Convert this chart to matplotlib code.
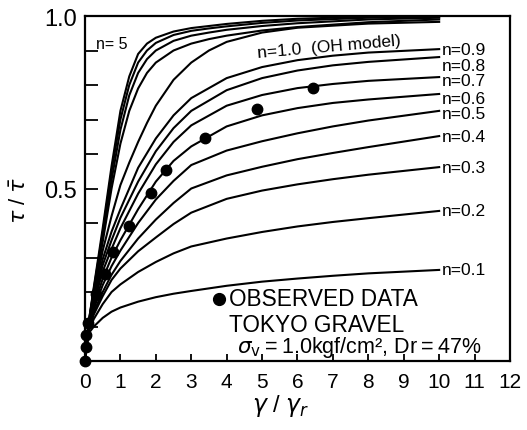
import matplotlib
matplotlib.use("Agg")
import matplotlib.pyplot as plt
from matplotlib.ticker import MultipleLocator

plt.rcParams['font.family'] = ['Liberation Sans', 'DejaVu Sans']
plt.rcParams['mathtext.fontset'] = 'dejavusans'

# gamma/gamma_r sample points (denser for the steep upper family)
gr_upper = [0, 0.1, 0.25, 0.5, 0.75, 1, 1.25, 1.5, 1.75, 2, 2.5, 3, 3.5, 4, 5, 6, 8, 10]
gr_lower = [0, 0.1, 0.25, 0.5, 0.75, 1, 1.5, 2, 2.5, 3, 4, 5, 6, 7, 8, 10]

# tau/tau_f, n >= 1
tau_n5 = [0, 0.11, 0.215, 0.385, 0.565, 0.725, 0.825, 0.89, 0.92, 0.937, 0.955, 0.965, 0.971, 0.977, 0.986, 0.992, 0.998, 1.0]
tau_n3 = [0, 0.11, 0.21, 0.372, 0.55, 0.70, 0.80, 0.865, 0.90, 0.922, 0.945, 0.957, 0.964, 0.97, 0.98, 0.987, 0.995, 0.998]
tau_n2 = [0, 0.108, 0.205, 0.36, 0.525, 0.67, 0.77, 0.835, 0.875, 0.90, 0.928, 0.943, 0.952, 0.96, 0.971, 0.979, 0.99, 0.995]
tau_n15 = [0, 0.106, 0.20, 0.345, 0.50, 0.63, 0.725, 0.79, 0.835, 0.865, 0.90, 0.92, 0.933, 0.943, 0.958, 0.968, 0.982, 0.99]
tau_n10 = [0, 0.104, 0.19, 0.32, 0.42, 0.51, 0.575, 0.635, 0.69, 0.74, 0.815, 0.865, 0.90, 0.925, 0.952, 0.966, 0.978, 0.983]

# tau/tau_f, n < 1
tau_n09 = [0, 0.102, 0.182, 0.295, 0.375, 0.44, 0.56, 0.645, 0.712, 0.762, 0.82, 0.852, 0.872, 0.885, 0.894, 0.904]
tau_n08 = [0, 0.10, 0.175, 0.278, 0.35, 0.415, 0.52, 0.608, 0.675, 0.725, 0.785, 0.82, 0.842, 0.857, 0.867, 0.881]
tau_n07 = [0, 0.098, 0.168, 0.26, 0.325, 0.385, 0.485, 0.57, 0.635, 0.683, 0.74, 0.771, 0.791, 0.803, 0.812, 0.823]
tau_n06 = [0, 0.096, 0.16, 0.238, 0.30, 0.35, 0.44, 0.52, 0.58, 0.622, 0.68, 0.712, 0.733, 0.748, 0.758, 0.774]
tau_n05 = [0, 0.094, 0.152, 0.22, 0.275, 0.32, 0.40, 0.468, 0.522, 0.568, 0.61, 0.637, 0.66, 0.68, 0.697, 0.725]
tau_n04 = [0, 0.092, 0.143, 0.20, 0.25, 0.29, 0.355, 0.41, 0.458, 0.50, 0.538, 0.563, 0.585, 0.603, 0.62, 0.652]
tau_n03 = [0, 0.089, 0.135, 0.188, 0.235, 0.268, 0.318, 0.358, 0.397, 0.43, 0.47, 0.494, 0.512, 0.527, 0.54, 0.562]
tau_n02 = [0, 0.086, 0.122, 0.165, 0.20, 0.222, 0.258, 0.287, 0.312, 0.332, 0.355, 0.374, 0.39, 0.403, 0.414, 0.435]
tau_n01 = [0, 0.08, 0.10, 0.125, 0.143, 0.155, 0.172, 0.185, 0.195, 0.203, 0.218, 0.23, 0.239, 0.247, 0.254, 0.264]

labelled_n = ['0.9', '0.8', '0.7', '0.6', '0.5', '0.4', '0.3', '0.2', '0.1']
label_shift = [0, -0.025, -0.009, -0.013, -0.009, 0, 0, 0, 0]

# observed data, Tokyo gravel
obs_x = [0, 0.02, 0.04, 0.08, 0.31, 0.57, 0.80, 1.25, 1.875, 2.30, 3.38, 4.86, 6.45]
obs_y = [0, 0.04, 0.075, 0.11, 0.194, 0.252, 0.316, 0.391, 0.487, 0.554, 0.646, 0.730, 0.791]

upper = [tau_n5, tau_n3, tau_n2, tau_n15, tau_n10]
lower = [tau_n09, tau_n08, tau_n07, tau_n06, tau_n05, tau_n04, tau_n03, tau_n02, tau_n01]

fig = plt.figure(figsize=(5.27, 4.31), dpi=100)
ax = fig.add_axes([85 / 527, 1 - 362 / 431, 425 / 527, 345 / 431])

for curve in upper:
    ax.plot(gr_upper, curve, color='black', lw=1.5)
for curve in lower:
    ax.plot(gr_lower, curve, color='black', lw=1.5)

for n, curve, dy in zip(labelled_n, lower, label_shift):
    ax.text(gr_lower[-1] + 0.08, curve[-1] + dy, 'n=' + n,
            fontsize=12.5, va='center', ha='left')

ax.text(0.3, 0.92, 'n= 5', fontsize=11.5, va='center')
ax.text(4.85, 0.872, 'n=1.0  (OH model)', fontsize=12.5, rotation=5, va='bottom')

ax.plot(obs_x, obs_y, 'o', color='black', ms=7.5, clip_on=False, zorder=5)

# legend block
ax.plot([3.78], [0.18], 'o', color='black', ms=8.5)
ax.text(4.08, 0.18, 'OBSERVED DATA', fontsize=16.3, va='center')
ax.text(4.08, 0.107, 'TOKYO GRAVEL', fontsize=16.3, va='center')
ax.text(4.3, 0.041, r'$\sigma_{\rm v}$' + '\u2009=\u20091.0kgf/cm², Dr\u2009=\u200947%',
        fontsize=15.5, va='center')

ax.set_xlim(0, 12)
ax.set_ylim(0, 1.0)
ax.xaxis.set_major_locator(MultipleLocator(1))
ax.set_yticks([0.5, 1.0])
ax.set_yticklabels(['0.5', '1.0'])
ax.yaxis.set_minor_locator(MultipleLocator(0.1))
ax.tick_params(axis='x', direction='in', length=5, width=1.3, labelsize=15, pad=8)
ax.tick_params(axis='y', which='both', direction='in', length=9, width=1.3, labelsize=17, pad=6)
for side in ax.spines.values():
    side.set_linewidth(1.6)

fig.text(281 / 527, 1 - 406 / 431, r'$\gamma$ / $\gamma_r$', fontsize=17, ha='center', va='center')
fig.text(20 / 527, 1 - 200 / 431, r'$\tau$ / $\bar{\tau}$', fontsize=16, rotation=90, ha='center', va='center')

fig.savefig('out.png', dpi=100)
